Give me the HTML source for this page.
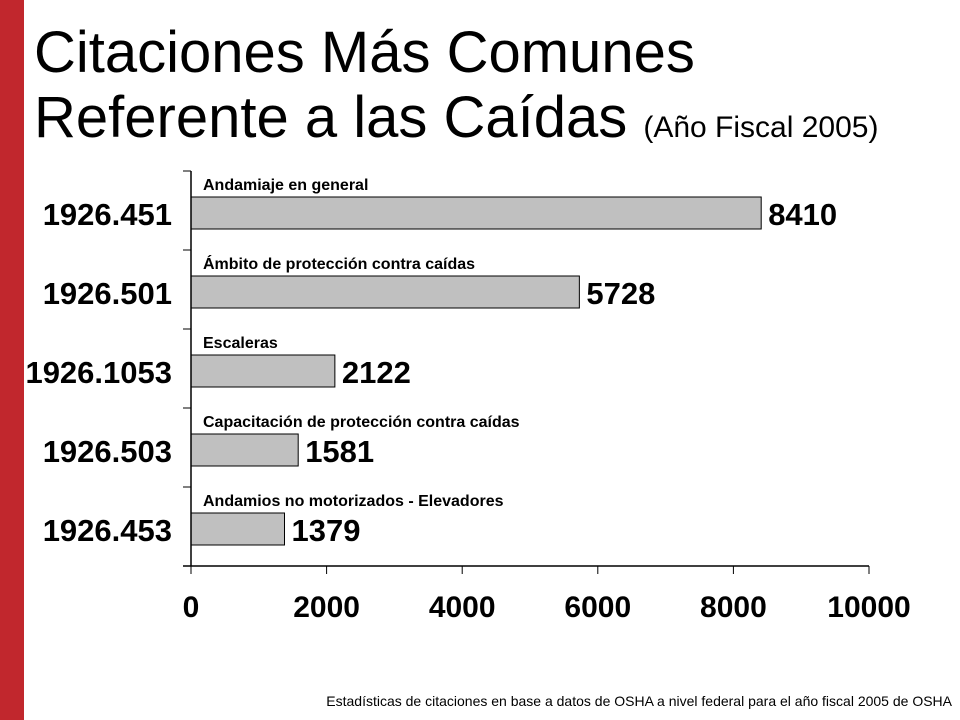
<!DOCTYPE html>
<html><head><meta charset="utf-8"><style>
body{margin:0;width:960px;height:720px;background:#fff;overflow:hidden;font-family:"Liberation Sans",Arial,sans-serif;position:relative}
#red{position:absolute;left:0;top:0;width:24px;height:720px;background:#c1272d}
h1{position:absolute;left:34px;top:20px;margin:0;font-weight:normal;font-size:58px;line-height:65px;color:#000;white-space:nowrap}
h1 small{font-size:30px}
#foot{position:absolute;right:8px;top:693px;font-size:14px}
</style></head><body>
<div id="red"></div>
<h1>Citaciones Más Comunes<br>Referente a las Caídas <small>(Año Fiscal 2005)</small></h1>
<svg id="c" width="960" height="720" style="position:absolute;left:0;top:0"></svg>
<div id="foot">Estadísticas de citaciones en base a datos de OSHA a nivel federal para el año fiscal 2005 de OSHA</div>
<script>
const categories=["1926.451","1926.501","1926.1053","1926.503","1926.453"];
const descriptions=["Andamiaje en general","Ámbito de protección contra caídas","Escaleras","Capacitación de protección contra caídas","Andamios no motorizados - Elevadores"];
const values=[8410,5728,2122,1581,1379];
const ticks=[0,2000,4000,6000,8000,10000];
const svg=document.getElementById('c');const NS='http://www.w3.org/2000/svg';
const x0=191,x1=869,yTop=171,yBot=566,band=(yBot-yTop)/categories.length;
const xs=v=>x0+(v/10000)*(x1-x0);
function el(t,a,txt){const e=document.createElementNS(NS,t);for(const k in a)e.setAttribute(k,a[k]);if(txt!==undefined)e.textContent=txt;svg.appendChild(e);return e;}
categories.forEach((c,i)=>{
 const y=yTop+i*band;
 const r=el('rect',{x:x0,y:y+26,width:xs(values[i])-x0,height:32,fill:'#c0c0c0',stroke:'#000','stroke-width':1});
 
 
 const d=el('text',{x:203,y:y+19,'font-size':16,'font-weight':'bold'},descriptions[i]);
 
 
 const l=el('text',{x:172,y:y+54,'font-size':31,'font-weight':'bold','text-anchor':'end'},c);
 
 
 const v=el('text',{x:xs(values[i])+7,y:y+54,'font-size':31,'font-weight':'bold'},values[i]);
 
 
});
for(let i=0;i<=categories.length;i++){const y=yTop+i*band;const t=el('line',{x1:183,x2:x0,y1:y,y2:y,stroke:'#000'});}
const ya=el('line',{x1:x0,x2:x0,y1:yTop,y2:yBot,stroke:'#000','stroke-width':1.5});


const xa=el('line',{x1:183,x2:x1,y1:yBot,y2:yBot,stroke:'#000','stroke-width':1.5});


ticks.forEach(t=>{
 const tk=el('line',{x1:xs(t),x2:xs(t),y1:yBot,y2:yBot+8,stroke:'#000'});
 
 
 const tl=el('text',{x:xs(t),y:617,'font-size':30,'font-weight':'bold','text-anchor':'middle'},t);
 
 
});
</script>
</body></html>
